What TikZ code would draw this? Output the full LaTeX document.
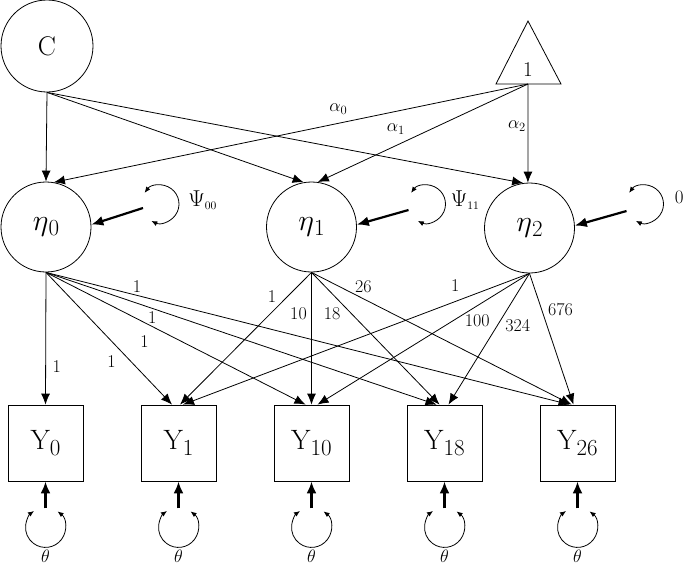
\RequirePackage{fix-cm}
\documentclass[tikz,border=0pt]{standalone}
\usepackage{tikz}
\usetikzlibrary{arrows.meta}
\usetikzlibrary{calc}
\usetikzlibrary{positioning}
\tikzset{
  latent/.style={circle, draw, minimum size=90pt, inner sep=0pt,
    font=\fontsize{30}{30}\selectfont},
  manifest/.style={rectangle, draw, minimum width=75pt, minimum height=76pt,
    inner sep=0pt, font=\fontsize{28}{28}\selectfont},
  lbl/.style={font=\fontsize{18}{18}\selectfont, inner sep=0pt, anchor=center},
  varlbl/.style={font=\fontsize{23}{23}\selectfont, inner sep=0pt, anchor=west},
  thetalbl/.style={font=\fontsize{18}{18}\selectfont, inner sep=0pt},
  resloop/.style={<->, >={Latex[length=6pt,width=5pt]}, line width=0.8pt},
  resarrow/.style={->, >={Latex[length=12pt,width=10pt]}, line width=2.2pt}
}
\newcommand{\etalab}[1]{$\eta$\raisebox{-5pt}{\fontsize{23}{23}\selectfont #1}}
\newcommand{\ylab}[1]{Y\raisebox{-6pt}{\fontsize{23}{23}\selectfont #1}}

\begin{document}
\begin{tikzpicture}[x=1pt, y=-1pt,
      >={Latex[length=11pt,width=9pt]},
      line width=0.8pt,
      node distance=133pt,
      on grid]

    \useasboundingbox (0,0) rectangle (685,568);

    % intercept and covariate
    \node[latent, minimum size=92pt, font=\fontsize{27}{27}\selectfont]
      (C) at (47,46) {C};
    \coordinate
      (onebase) at (528,84);
    \draw ($(onebase)+(-32,0)$) -- ($(onebase)+(0,-63)$) -- ($(onebase)+(33,0)$) -- cycle;
    \node[font=\fontsize{21}{21}\selectfont]
      (one) at ($(onebase)+(0,-14)$) {1};

    % growth factors
    \node[latent]
      (eta0) at (46,227) {\etalab{0}};
    \node[latent]
      (eta1) at (311.5,227) {\etalab{1}};
    \node[latent]
      (eta2) at (529.5,228) {\etalab{2}};

    % repeated measures
    \node[manifest]
      (Y0) at (45.5,443) {\ylab{0}};
    \node[manifest]
      (Y1) [right=of Y0] {\ylab{1}};
    \node[manifest]
      (Y10) [right=of Y1] {\ylab{10}};
    \node[manifest]
      (Y18) [right=of Y10] {\ylab{18}};
    \node[manifest]
      (Y26) [right=of Y18] {\ylab{26}};

    \path[->]
      (C.south) edge (eta0.north)
      (C.south) edge (eta1.100)
      (C.south) edge (eta2.98)
      (onebase) edge node[lbl, pos=0.4, shift={(0,-14)}] {$\alpha_0$} (eta0.80)
      (onebase) edge node[lbl, pos=0.6, shift={(-6,-14)}] {$\alpha_1$} (eta1.82)
      (onebase) edge node[lbl, pos=0.43, shift={(-11,0)}] {$\alpha_2$} (eta2.92);

    \path[->]
      (eta0.south) edge node[lbl, pos=0.71, shift={(11,0)}] {1} (Y0.north)
      (eta0.south) edge node[lbl, pos=0.6, shift={(-10,10)}] {1} ($(Y1.north)+(-6.5,0)$)
      (eta0.south) edge node[lbl, pos=0.41, shift={(-8,15)}] {1} ($(Y10.north)+(-6,0)$)
      (eta0.south) edge node[lbl, pos=0.28, shift={(-3,8)}] {1} ($(Y18.north)+(-8,0)$)
      (eta0.south) edge node[lbl, pos=0.17, shift={(2,-8)}] {1} ($(Y26.north)+(-8,0)$)
      (eta1.south) edge node[lbl, pos=0.24, shift={(-8,-8)}] {1} ($(Y1.north)+(1.5,0)$)
      (eta1.south) edge node[lbl, pos=0.31, shift={(-13,0)}] {10} (Y10.north)
      (eta1.south) edge node[lbl, pos=0.24, shift={(-10,10)}] {18} ($(Y18.north)+(-5,0)$)
      (eta1.south) edge node[lbl, pos=0.18, shift={(5,-10)}] {26} ($(Y26.north)+(-6,0)$)
      (eta2.south) edge node[lbl, pos=0.2, shift={(-5,-14)}] {1} ($(Y1.north)+(4.5,0)$)
      (eta2.south) edge node[lbl, pos=0.28, shift={(7,11)}] {100} ($(Y10.north)+(6,0)$)
      (eta2.south) edge node[lbl, pos=0.33, shift={(15,9)}] {324} ($(Y18.north)+(4,0)$)
      (eta2.south) edge node[lbl, pos=0.32, shift={(17,-6)}] {676} ($(Y26.north)+(-4,0)$);

    % factor variances
    \coordinate (psi0) at ($(eta0)+(114,-23)$);
    \coordinate (psi0in) at ($(eta0)+(97,-19)$);
    \draw[resloop] (psi0) ++(216:19) arc[start angle=216, end angle=477, radius=19];
    \draw[resarrow] (psi0in) -- (eta0.3);
    \node[varlbl] (psi0lab) at ($(eta0)+(142,-27)$) {$\Psi_{\scriptscriptstyle 00}$};

    \coordinate (psi1) at ($(eta1)+(115,-23)$);
    \coordinate (psi1in) at ($(eta1)+(97,-17)$);
    \draw[resloop] (psi1) ++(216:19) arc[start angle=216, end angle=477, radius=19];
    \draw[resarrow] (psi1in) -- (eta1.3);
    \node[varlbl] (psi1lab) at ($(eta1)+(139,-27)$) {$\Psi_{\scriptscriptstyle 11}$};

    \coordinate (psi2) at ($(eta2)+(115,-24)$);
    \coordinate (psi2in) at ($(eta2)+(97,-17)$);
    \draw[resloop] (psi2) ++(216:19) arc[start angle=216, end angle=477, radius=19];
    \draw[resarrow] (psi2in) -- (eta2.3);
    \node[varlbl, font=\fontsize{19}{19}\selectfont] (psi2lab) at ($(eta2)+(145,-31)$) {0};

    % residual variances
    \coordinate (th0) at ($(Y0.south)+(0,46)$);
    \coordinate (th0in) at ($(Y0.south)+(0,27)$);
    \draw[resloop] (th0) ++(307:20) arc[start angle=307, end angle=595, radius=20];
    \draw[resarrow] (th0in) -- (Y0.south);
    \node[thetalbl] (th0lab) at ($(Y0.south)+(0,75)$) {$\theta$};

    \coordinate (th1) at ($(Y1.south)+(0,46)$);
    \coordinate (th1in) at ($(Y1.south)+(0,27)$);
    \draw[resloop] (th1) ++(307:20) arc[start angle=307, end angle=595, radius=20];
    \draw[resarrow] (th1in) -- (Y1.south);
    \node[thetalbl] (th1lab) at ($(Y1.south)+(0,75)$) {$\theta$};

    \coordinate (th10) at ($(Y10.south)+(0,46)$);
    \coordinate (th10in) at ($(Y10.south)+(0,27)$);
    \draw[resloop] (th10) ++(307:20) arc[start angle=307, end angle=595, radius=20];
    \draw[resarrow] (th10in) -- (Y10.south);
    \node[thetalbl] (th10lab) at ($(Y10.south)+(0,75)$) {$\theta$};

    \coordinate (th18) at ($(Y18.south)+(0,46)$);
    \coordinate (th18in) at ($(Y18.south)+(0,27)$);
    \draw[resloop] (th18) ++(307:20) arc[start angle=307, end angle=595, radius=20];
    \draw[resarrow] (th18in) -- (Y18.south);
    \node[thetalbl] (th18lab) at ($(Y18.south)+(0,75)$) {$\theta$};

    \coordinate (th26) at ($(Y26.south)+(0,46)$);
    \coordinate (th26in) at ($(Y26.south)+(0,27)$);
    \draw[resloop] (th26) ++(307:20) arc[start angle=307, end angle=595, radius=20];
    \draw[resarrow] (th26in) -- (Y26.south);
    \node[thetalbl] (th26lab) at ($(Y26.south)+(0,75)$) {$\theta$};

  \end{tikzpicture}
\end{document}
